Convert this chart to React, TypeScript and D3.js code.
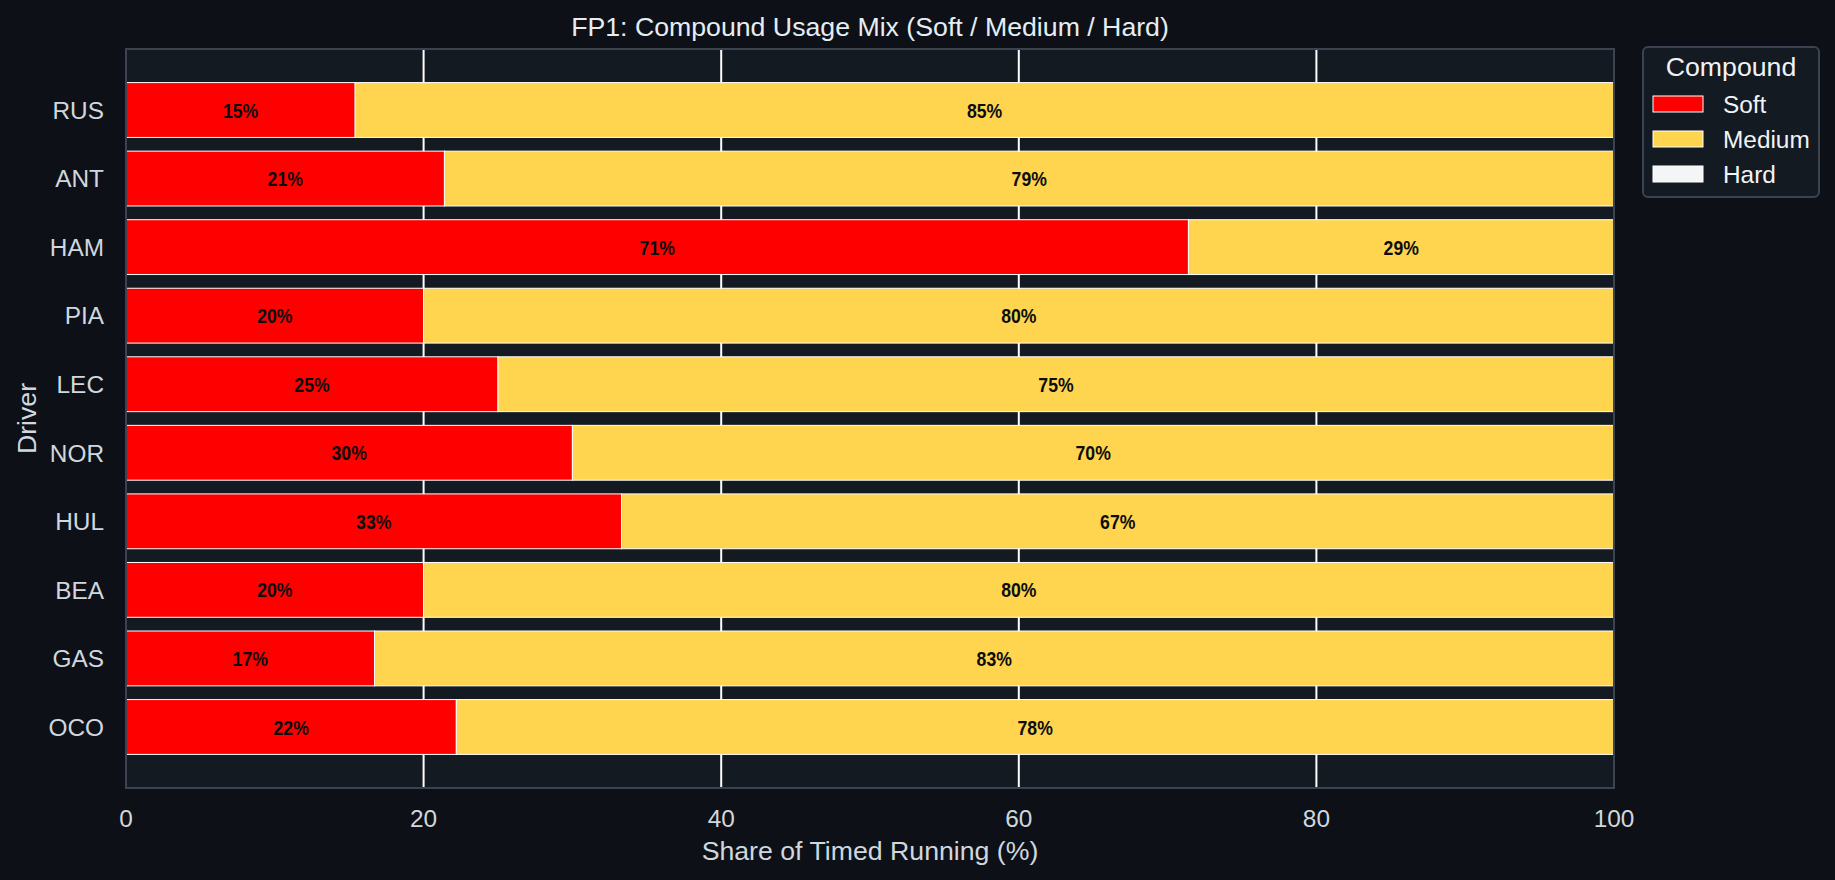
import React, { useEffect, useRef } from 'react';
import * as d3 from 'd3';

const drivers = ['RUS', 'ANT', 'HAM', 'PIA', 'LEC', 'NOR', 'HUL', 'BEA', 'GAS', 'OCO'];
const softShare = [15.4, 21.4, 71.4, 20.0, 25.0, 30.0, 33.3, 20.0, 16.7, 22.2];
const mediumShare = [84.6, 78.6, 28.6, 80.0, 75.0, 70.0, 66.7, 80.0, 83.3, 77.8];
const hardShare = [0, 0, 0, 0, 0, 0, 0, 0, 0, 0];
const compounds = ['Soft', 'Medium', 'Hard'];
const xTicks = [0, 20, 40, 60, 80, 100];

const compoundColors: { [key: string]: string } = {
    Soft: '#ff0000',
    Medium: '#ffd54f',
    Hard: '#f4f5f7',
};

const W = 1835;
const H = 880;
const margin = { left: 126, right: 221, top: 49, bottom: 92 };

const App: React.FC = () => {
    const svgRef = useRef<SVGSVGElement | null>(null);

    useEffect(() => {
        const svg = d3.select(svgRef.current);
        svg.selectAll('*').remove();

        const plotRight = W - margin.right;
        const plotBottom = H - margin.bottom;

        const x = d3.scaleLinear().domain([0, 100]).range([margin.left, plotRight]);
        // matplotlib-ish limits: bars of height 0.8 plus 5% margins
        const y = d3.scaleLinear().domain([-0.89, drivers.length - 1 + 0.89]).range([margin.top, plotBottom]);
        const barH = y(0.8) - y(0);

        svg.append('rect').attr('width', W).attr('height', H).attr('fill', '#0d1117');

        // plot background
        svg.append('rect')
            .attr('x', margin.left)
            .attr('y', margin.top)
            .attr('width', plotRight - margin.left)
            .attr('height', plotBottom - margin.top)
            .attr('fill', '#141a22');

        // vertical grid
        svg.append('g')
            .selectAll('line')
            .data(xTicks)
            .enter()
            .append('line')
            .attr('x1', d => x(d))
            .attr('x2', d => x(d))
            .attr('y1', margin.top)
            .attr('y2', plotBottom)
            .attr('stroke', '#ffffff')
            .attr('stroke-width', 2);

        // stacked segments
        const rows = drivers.map((drv, i) => ({
            drv,
            i,
            parts: [softShare[i], mediumShare[i], hardShare[i]],
        }));

        rows.forEach(row => {
            let start = 0;
            row.parts.forEach((val, k) => {
                if (val <= 0) return;
                const name = compounds[k];
                svg.append('rect')
                    .attr('x', x(start))
                    .attr('y', y(row.i) - barH / 2)
                    .attr('width', x(start + val) - x(start))
                    .attr('height', barH)
                    .attr('fill', compoundColors[name])
                    .attr('stroke', '#ffffff')
                    .attr('stroke-width', 1);

                // narrow bold label, squeezed horizontally
                svg.append('text')
                    .attr('transform', `translate(${x(start + val / 2)}, ${y(row.i)}) scale(0.84, 1)`)
                    .attr('dy', '0.36em')
                    .attr('text-anchor', 'middle')
                    .attr('font-family', '"Liberation Sans Narrow", "Liberation Sans", Arial, sans-serif')
                    .attr('font-weight', 'bold')
                    .attr('font-size', 21)
                    .attr('fill', '#0d0d0d')
                    .text(`${Math.round(val)}%`);
                start += val;
            });
        });

        // spines
        svg.append('rect')
            .attr('x', margin.left)
            .attr('y', margin.top)
            .attr('width', plotRight - margin.left)
            .attr('height', plotBottom - margin.top)
            .attr('fill', 'none')
            .attr('stroke', '#3b4250')
            .attr('stroke-width', 2);

        const font = '"Liberation Sans", Arial, sans-serif';

        // y tick labels
        svg.append('g')
            .selectAll('text')
            .data(drivers)
            .enter()
            .append('text')
            .attr('x', margin.left - 22)
            .attr('y', (d, i) => y(i))
            .attr('dy', '0.36em')
            .attr('text-anchor', 'end')
            .attr('font-family', font)
            .attr('font-size', 24.4)
            .attr('fill', '#d0d7de')
            .text(d => d);

        // x tick labels
        svg.append('g')
            .selectAll('text')
            .data(xTicks)
            .enter()
            .append('text')
            .attr('x', d => x(d))
            .attr('y', plotBottom + 39)
            .attr('text-anchor', 'middle')
            .attr('font-family', font)
            .attr('font-size', 24.4)
            .attr('fill', '#d0d7de')
            .text(d => d);

        // axis labels
        svg.append('text')
            .attr('x', (margin.left + plotRight) / 2)
            .attr('y', plotBottom + 72)
            .attr('text-anchor', 'middle')
            .attr('font-family', font)
            .attr('font-size', 26.7)
            .attr('fill', '#d0d7de')
            .text('Share of Timed Running (%)');

        svg.append('text')
            .attr('transform', `translate(36, ${(margin.top + plotBottom) / 2}) rotate(-90)`)
            .attr('text-anchor', 'middle')
            .attr('font-family', font)
            .attr('font-size', 26.7)
            .attr('fill', '#d0d7de')
            .text('Driver');

        // title
        svg.append('text')
            .attr('x', (margin.left + plotRight) / 2)
            .attr('y', margin.top - 13)
            .attr('text-anchor', 'middle')
            .attr('font-family', font)
            .attr('font-size', 26.7)
            .attr('fill', '#e6edf3')
            .text('FP1: Compound Usage Mix (Soft / Medium / Hard)');

        // legend
        const lg = svg.append('g').attr('transform', 'translate(1643, 47)');
        lg.append('rect')
            .attr('width', 176)
            .attr('height', 150)
            .attr('rx', 5)
            .attr('fill', '#141a22')
            .attr('stroke', '#3b4250')
            .attr('stroke-width', 2);
        lg.append('text')
            .attr('x', 88)
            .attr('y', 29)
            .attr('text-anchor', 'middle')
            .attr('font-family', font)
            .attr('font-size', 26.7)
            .attr('fill', '#f0f3f6')
            .text('Compound');

        compounds.forEach((name, k) => {
            const rowY = 49 + k * 35;
            lg.append('rect')
                .attr('x', 10)
                .attr('y', rowY)
                .attr('width', 50)
                .attr('height', 16)
                .attr('fill', compoundColors[name])
                .attr('stroke', '#ffffff')
                .attr('stroke-width', 1);
            lg.append('text')
                .attr('x', 80)
                .attr('y', rowY + 8)
                .attr('dy', '0.36em')
                .attr('font-family', font)
                .attr('font-size', 24.4)
                .attr('fill', '#f0f3f6')
                .text(name);
        });
    }, []);

    return (
        <svg
            ref={svgRef}
            width={W}
            height={H}
            style={{ position: 'absolute', left: 0, top: 0, display: 'block' }}
        />
    );
};

export default App;
